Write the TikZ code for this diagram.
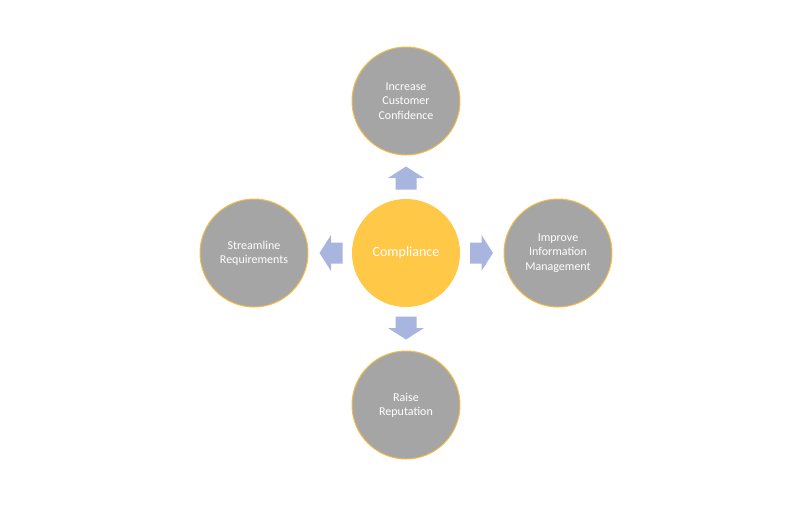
\documentclass[tikz,border=0pt]{standalone}
\usepackage{fontspec}
\setmainfont{Carlito}
\begin{document}
\begin{tikzpicture}[x=1pt,y=-1pt]
\definecolor{greyfill}{HTML}{A5A5A5}
\definecolor{goldrim}{HTML}{F4BE45}
\definecolor{yellowfill}{HTML}{FFC846}
\definecolor{arrowc}{HTML}{A8B6DF}
\tikzset{
  outer/.style={circle, fill=greyfill, draw=goldrim, line width=1pt, minimum size=108pt, inner sep=0pt, align=center, text=white, font=\fontsize{12}{14.3}\selectfont},
  core/.style={circle, fill=yellowfill, draw=yellowfill, line width=1pt, minimum size=107pt, inner sep=0pt, align=center, text=white, font=\fontsize{14}{16}\selectfont},
  pics/blockarr/.style={code={
    \fill[arrowc] (-11.5,-10.5) -- (0,-10.5) -- (0,-18) -- (11.5,0) -- (0,18) -- (0,10.5) -- (-11.5,10.5) -- cycle;
  }}
}
\useasboundingbox (0,0) rectangle (800,509);
\node[core] (comp) at (406,253) {Compliance};
\node[outer] (top) at (406,101) {Increase\\Customer\\Confidence};
\node[outer] (left) at (254,253) {Streamline\\Requirements};
\node[outer] (right) at (558,253) {Improve\\Information\\Management};
\node[outer] (bottom) at (406,405) {Raise\\Reputation};
\pic[rotate=90] at (406,178) {blockarr};
\pic[rotate=180] at (331,253) {blockarr};
\pic at (481.5,253) {blockarr};
\pic[rotate=-90] at (406,328) {blockarr};
\end{tikzpicture}
\end{document}
